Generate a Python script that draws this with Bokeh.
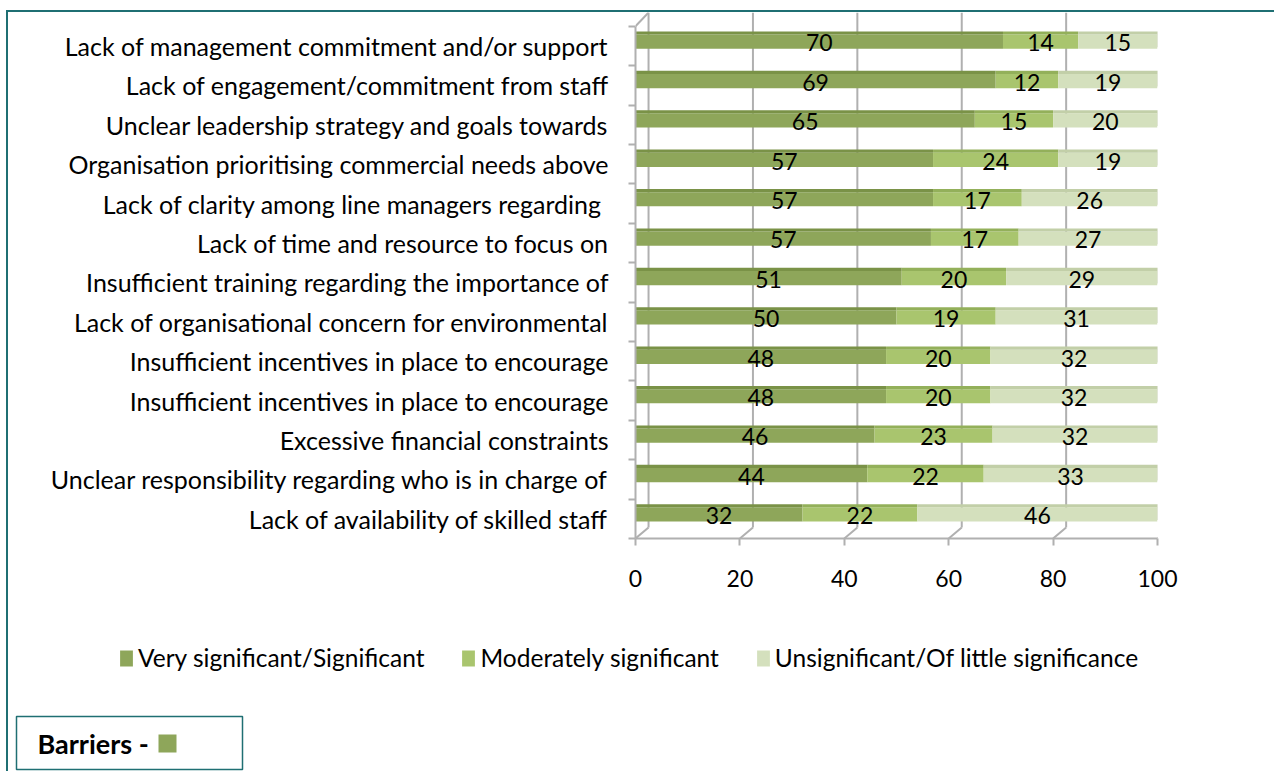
from bokeh.plotting import figure
from bokeh.layouts import column
from bokeh.models import (Range1d, FixedTicker, ColumnDataSource, Legend, LegendItem)
from bokeh.core.properties import value
from bokeh.embed import file_html
from bokeh.resources import INLINE

# ---------------- data (top row first) ----------------
categories = [
    "Lack of management commitment and/or support",
    "Lack of engagement/commitment from staff",
    "Unclear leadership strategy and goals towards",
    "Organisation prioritising commercial needs above",
    "Lack of clarity among line managers regarding ",
    "Lack of time and resource to focus on",
    "Insufficient training regarding the importance of",
    "Lack of organisational concern for environmental",
    "Insufficient incentives in place to encourage",
    "Insufficient incentives in place to encourage",
    "Excessive financial constraints",
    "Unclear responsibility regarding who is in charge of",
    "Lack of availability of skilled staff",
]
very_significant = [70.4, 69, 65, 57, 57, 56.6, 51, 50, 48, 48, 45.8, 44.4, 32]
moderately_significant = [14.4, 12, 15, 24, 17, 16.8, 20, 19, 20, 20, 22.6, 22.3, 22]
unsignificant = [15.2, 19, 20, 19, 26, 26.6, 29, 31, 32, 32, 31.6, 33.3, 46]
series_names = ["Very significant/Significant", "Moderately significant",
                "Unsignificant/Of little significance"]
x_ticks = [0, 20, 40, 60, 80, 100]
box_title = "Barriers -"

# ---------------- style ----------------
FONT = "Lato"
colors = ["#8ea65a", "#a9c56e", "#d4e0bd"]
top_colors = ["#7a9247", "#93b05a", "#c2cfa8"]
cap_color = "#a9b58d"
grid_color = "#b0b0b0"
teal = "#1f6f73"

PAGE_W, PAGE_H = 1274, 771
OX, OY = 8, 12                      # content origin inside the teal border
W = PAGE_W - OX
H1 = 600
H2 = PAGE_H - OY - H1
FR_L, FR_R, FR_T, FR_B = 635 - OX, 1157 - OX, 12 - OY, 538 - OY
n = len(categories)
ROW_PX = 39.4
Y_TOP = (FR_B - FR_T) / ROW_PX
DX = 2.5          # depth offset in x units
DY = 0.28         # depth offset in y units

p = figure(width=W, height=H1, output_backend="svg", toolbar_location=None,
           x_range=Range1d(0, 100), y_range=Range1d(0, Y_TOP),
           min_border_left=FR_L, min_border_right=W - FR_R,
           min_border_top=FR_T, min_border_bottom=H1 - FR_B)
p.frame_align = False
p.outline_line_color = None
p.xgrid.visible = False
p.ygrid.visible = False
p.background_fill_color = "white"
p.border_fill_color = "white"

# 3-D style walls / grid lines
gx0, gy0, gx1, gy1 = [], [], [], []
for t in x_ticks:
    gx0 += [t + DX, t]
    gy0 += [DY, 0]
    gx1 += [t + DX, t + DX]
    gy1 += [Y_TOP, DY]
gx0.append(0); gy0.append(n); gx1.append(DX); gy1.append(Y_TOP)
p.segment(x0=gx0, y0=gy0, x1=gx1, y1=gy1, line_color=grid_color, line_width=2)

# ---------------- bars ----------------
centers = [n - 0.5 - i for i in range(n)]
BAR_SHIFT = 0.11
BAR_H = 0.36
TOP_H = 0.08
ybar = [c + BAR_SHIFT for c in centers]

series = [very_significant, moderately_significant, unsignificant]
lefts = [0.0] * n
lab_x, lab_y, lab_t = [], [], []
for k, vals in enumerate(series):
    rights = [l + v for l, v in zip(lefts, vals)]
    src = ColumnDataSource(dict(y=ybar, left=lefts, right=rights,
                                ytop0=[y + BAR_H / 2 for y in ybar],
                                ytop1=[y + BAR_H / 2 + TOP_H for y in ybar]))
    p.hbar(y="y", left="left", right="right", height=BAR_H, source=src,
           fill_color=colors[k], line_color=None)
    p.quad(left="left", right="right", bottom="ytop0", top="ytop1", source=src,
           fill_color=top_colors[k], line_color=None)
    for l, rr, y, v in zip(lefts, rights, ybar, vals):
        lab_x.append((l + rr) / 2)
        lab_y.append(y - 0.03)
        lab_t.append(str(int(round(v))))
    lefts = rights

# right end caps
p.quad(left=lefts, right=[v + 0.8 for v in lefts],
       bottom=[y - BAR_H / 2 + 0.04 for y in ybar],
       top=[y + BAR_H / 2 + TOP_H for y in ybar],
       fill_color=cap_color, line_color=None)

p.text(x=lab_x, y=lab_y, text=lab_t, text_align="center", text_baseline="middle",
       text_font=value(FONT), text_font_size="23px", text_color="black")

# ---------------- axes ----------------
yax = p.yaxis[0]
yax.ticker = FixedTicker(ticks=centers, minor_ticks=list(range(n + 1)))
yax.major_label_overrides = {c: lab for c, lab in zip(centers, categories)}
yax.bounds = (0, n)
yax.axis_line_color = grid_color
yax.axis_line_width = 2
yax.major_tick_out = 0
yax.major_tick_in = 0
yax.minor_tick_out = 7
yax.minor_tick_in = 0
yax.minor_tick_line_color = grid_color
yax.minor_tick_line_width = 2
yax.major_label_text_font = FONT
yax.major_label_text_font_size = "25px"
yax.major_label_text_color = "black"
yax.major_label_standoff = 20

xax = p.xaxis[0]
xax.ticker = FixedTicker(ticks=x_ticks)
xax.bounds = (0, 100)
xax.axis_line_color = grid_color
xax.axis_line_width = 2
xax.major_tick_out = 7
xax.major_tick_in = 0
xax.major_tick_line_color = grid_color
xax.major_tick_line_width = 2
xax.minor_tick_out = 0
xax.minor_tick_in = 0
xax.major_label_text_font = FONT
xax.major_label_text_font_size = "23px"
xax.major_label_text_color = "black"
xax.major_label_standoff = 24

# ---------------- bottom panel: legend + caption box (page pixel coords) ----------------
p2 = figure(width=W, height=H2, output_backend="svg", toolbar_location=None,
            x_range=Range1d(OX, PAGE_W), y_range=Range1d(PAGE_H, OY + H1),
            min_border=0, min_border_left=0, min_border_right=0,
            min_border_top=0, min_border_bottom=0)
p2.frame_align = False
p2.axis.visible = False
p2.grid.visible = False
p2.outline_line_color = None
p2.background_fill_color = "white"
p2.border_fill_color = "white"

nan = float("nan")
swatches = [p2.hbar(y=[nan], left=[nan], right=[nan], height=1, fill_color=c, line_color=None)
            for c in colors]
legend = Legend(items=[LegendItem(label=s, renderers=[r]) for s, r in zip(series_names, swatches)],
                orientation="horizontal", location=(118 - OX, PAGE_H - 672),
                glyph_width=16, glyph_height=20, label_standoff=4, spacing=36,
                label_text_font=FONT, label_text_font_size="24.5px", label_text_color="black",
                border_line_color=None, background_fill_alpha=0, padding=0, margin=0,
                label_height=24)
p2.add_layout(legend, "center")

p2.quad(left=[16], right=[242], top=[716], bottom=[769],
        fill_color="white", line_color=teal, line_width=1.5)
p2.quad(left=[158], right=[176], top=[734], bottom=[752],
        fill_color=colors[0], line_color=None)
p2.text(x=[37], y=[743], text=[box_title], text_font=value(FONT), text_font_size="27px",
        text_font_style="bold", text_color="black", text_baseline="middle", text_align="left")

layout = column(p, p2, spacing=0, margin=(OY - 2, 0, 0, OX - 2),
                styles={"border-left": f"2px solid {teal}", "border-top": f"2px solid {teal}"})

open("out.html", "w").write(file_html(layout, INLINE))
